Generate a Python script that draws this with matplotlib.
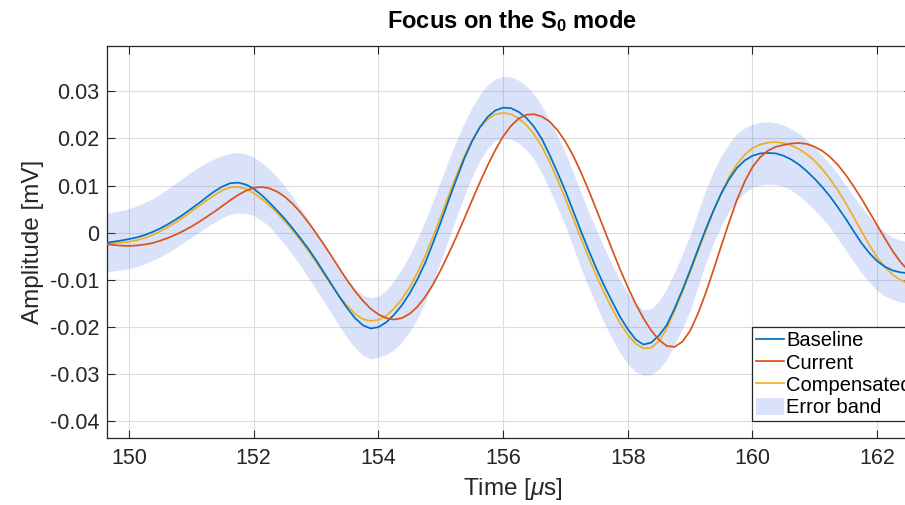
import matplotlib
matplotlib.use("Agg")
import matplotlib.pyplot as plt
import numpy as np

plt.rcParams["font.family"] = ["Liberation Sans", "DejaVu Sans"]
plt.rcParams["mathtext.fontset"] = "custom"
plt.rcParams["mathtext.rm"] = "Liberation Sans"
plt.rcParams["mathtext.it"] = "Liberation Sans:italic"
plt.rcParams["mathtext.bf"] = "Liberation Sans:bold"
plt.rcParams["axes.unicode_minus"] = False

# time [us], one row per microsecond
time_us = [149.5, 149.625, 149.75, 149.875,
           150.0, 150.125, 150.25, 150.375, 150.5, 150.625, 150.75, 150.875,
           151.0, 151.125, 151.25, 151.375, 151.5, 151.625, 151.75, 151.875,
           152.0, 152.125, 152.25, 152.375, 152.5, 152.625, 152.75, 152.875,
           153.0, 153.125, 153.25, 153.375, 153.5, 153.625, 153.75, 153.875,
           154.0, 154.125, 154.25, 154.375, 154.5, 154.625, 154.75, 154.875,
           155.0, 155.125, 155.25, 155.375, 155.5, 155.625, 155.75, 155.875,
           156.0, 156.125, 156.25, 156.375, 156.5, 156.625, 156.75, 156.875,
           157.0, 157.125, 157.25, 157.375, 157.5, 157.625, 157.75, 157.875,
           158.0, 158.125, 158.25, 158.375, 158.5, 158.625, 158.75, 158.875,
           159.0, 159.125, 159.25, 159.375, 159.5, 159.625, 159.75, 159.875,
           160.0, 160.125, 160.25, 160.375, 160.5, 160.625, 160.75, 160.875,
           161.0, 161.125, 161.25, 161.375, 161.5, 161.625, 161.75, 161.875,
           162.0, 162.125, 162.25, 162.375, 162.5]

# amplitudes, in units of 1e-3 mV
baseline = [-2.4, -2.2, -1.9, -1.65,
            -1.35, -1.0, -0.5, 0.15, 0.9, 1.8, 2.8, 3.9,
            5.1, 6.3, 7.6, 8.8, 9.8, 10.5, 10.6, 10.2,
            9.3, 8.0, 6.4, 4.7, 2.9, 0.9, -1.2, -3.4,
            -5.8, -8.4, -11.0, -13.6, -16.0, -18.1, -19.6, -20.3,
            -20.0, -19.0, -17.4, -15.4, -12.9, -9.9, -6.4, -2.2,
            2.2, 6.8, 11.3, 15.6, 19.3, 22.3, 24.5, 25.9,
            26.5, 26.4, 25.6, 24.3, 22.4, 19.8, 16.4, 12.7,
            8.8, 4.6, 0.3, -3.8, -7.7, -11.3, -14.6, -17.8,
            -20.4, -22.6, -23.7, -23.3, -21.8, -19.6, -16.1, -12.2,
            -8.0, -3.6, 0.7, 4.7, 8.3, 11.3, 13.7, 15.3,
            16.3, 16.8, 16.9, 16.8, 16.3, 15.5, 14.4, 13.0,
            11.4, 9.6, 7.6, 5.3, 2.9, 0.3, -2.2, -4.3,
            -6.0, -7.2, -8.0, -8.4, -8.6]

current = [-2.2, -2.4, -2.6, -2.75,
           -2.8, -2.7, -2.5, -2.2, -1.7, -1.1, -0.4, 0.4,
           1.3, 2.3, 3.4, 4.5, 5.7, 6.9, 8.0, 8.9,
           9.5, 9.7, 9.4, 8.7, 7.6, 6.1, 4.3, 2.2,
           -0.1, -2.5, -5.0, -7.6, -10.1, -12.4, -14.4, -16.1,
           -17.3, -18.1, -18.4, -18.1, -17.2, -15.7, -13.6, -11.0,
           -7.9, -4.5, -0.9, 2.9, 6.8, 10.6, 14.2, 17.5,
           20.4, 22.6, 24.2, 25.0, 25.1, 24.6, 23.5, 21.7,
           19.3, 16.3, 12.8, 8.9, 4.8, 0.6, -3.6, -7.7,
           -11.5, -15.0, -18.1, -20.7, -22.7, -24.0, -24.2, -23.1,
           -20.8, -17.2, -12.8, -7.9, -2.8, 2.2, 6.9, 10.8,
           13.9, 16.0, 17.4, 18.2, 18.6, 18.9, 19.0, 18.8,
           18.2, 17.3, 16.0, 14.3, 12.2, 9.8, 7.2, 4.4,
           1.6, -1.2, -3.9, -6.2, -8.0]

compensated = [-2.6, -2.4, -2.2, -2.1,
               -1.9, -1.6, -1.1, -0.5, 0.3, 1.2, 2.2, 3.3,
               4.5, 5.7, 6.9, 8.0, 9.0, 9.6, 9.7, 9.3,
               8.4, 7.2, 5.8, 4.2, 2.4, 0.5, -1.6, -3.8,
               -6.2, -8.7, -11.2, -13.5, -15.5, -17.2, -18.3, -18.7,
               -18.5, -17.6, -16.1, -14.1, -11.6, -8.5, -4.9, -0.9,
               3.4, 7.8, 12.1, 16.1, 19.5, 22.2, 24.0, 25.1,
               25.4, 25.1, 24.2, 22.8, 20.8, 18.2, 14.9, 11.2,
               7.2, 3.0, -1.2, -5.3, -9.2, -12.8, -16.1, -19.1,
               -21.6, -23.5, -24.5, -24.4, -23.0, -20.3, -16.6, -12.6,
               -8.4, -4.0, 0.3, 4.5, 8.4, 11.8, 14.5, 16.5,
               17.9, 18.7, 19.1, 19.2, 19.0, 18.5, 17.7, 16.6,
               15.2, 13.4, 11.3, 8.9, 6.2, 3.3, 0.3, -2.6,
               -5.2, -7.3, -8.9, -10.0, -10.8]

band_upper = [3.8, 4.1, 4.4, 4.7,
              5.1, 5.7, 6.4, 7.2, 8.2, 9.3, 10.5, 11.7,
              12.9, 14.0, 14.9, 15.7, 16.4, 16.8, 17.0, 16.7,
              16.0, 14.9, 13.5, 11.8, 9.8, 7.6, 5.2, 2.7,
              0.2, -2.4, -5.0, -7.5, -9.8, -11.8, -13.2, -13.8,
              -13.4, -12.2, -10.2, -7.7, -4.8, -1.3, 2.5, 6.7,
              11.0, 15.4, 19.5, 23.2, 26.5, 29.2, 31.3, 32.6,
              33.1, 33.0, 32.3, 31.1, 29.3, 26.8, 23.8, 20.5,
              17.0, 12.8, 8.5, 4.4, 0.5, -3.3, -6.8, -10.0,
              -12.8, -15.0, -16.3, -16.1, -14.5, -11.8, -8.5, -4.6,
              -0.5, 4.3, 9.0, 13.0, 16.3, 18.9, 21.0, 22.2,
              23.0, 23.4, 23.5, 23.3, 22.8, 22.0, 21.0, 19.6,
              18.0, 16.3, 14.5, 12.3, 10.0, 7.7, 5.5, 3.4,
              1.5, 0.1, -1.0, -1.6, -2.0]

band_lower = [-8.6, -8.35, -8.1, -7.9,
              -7.6, -7.2, -6.6, -5.9, -5.1, -4.2, -3.2, -2.1,
              -1.0, 0.1, 1.2, 2.3, 3.2, 3.9, 4.2, 4.1,
              3.6, 2.6, 1.3, -0.5, -2.5, -4.7, -7.0, -9.5,
              -12.0, -14.6, -17.2, -19.8, -22.3, -24.4, -26.0, -26.7,
              -26.4, -25.8, -24.8, -23.2, -21.0, -18.2, -14.8, -10.6,
              -6.0, -1.4, 3.2, 7.7, 11.8, 15.2, 17.9, 19.5,
              20.0, 19.8, 19.0, 17.5, 15.5, 12.5, 9.0, 5.3,
              1.5, -3.0, -7.5, -11.6, -15.5, -19.2, -22.5, -25.4,
              -27.8, -29.4, -30.2, -30.1, -29.0, -26.8, -23.8, -20.4,
              -16.5, -11.5, -6.5, -2.2, 1.5, 4.5, 6.8, 8.5,
              9.6, 10.1, 10.3, 10.2, 9.8, 9.0, 7.8, 6.4,
              4.8, 3.0, 1.0, -1.4, -3.8, -6.2, -8.5, -10.5,
              -12.2, -13.4, -14.2, -14.7, -14.9]

x_ticks = [150, 152, 154, 156, 158, 160, 162]
y_ticks = [-0.04, -0.03, -0.02, -0.01, 0.0, 0.01, 0.02, 0.03]
y_tick_labels = ["-0.04", "-0.03", "-0.02", "-0.01", "0", "0.01", "0.02", "0.03"]

t = np.array(time_us)
scale = 1e-3  # -> mV

fig = plt.figure(figsize=(9.05, 5.05), dpi=100)
ax = fig.add_axes([107 / 905, 67 / 505, 805 / 905, 392 / 505])

band = ax.fill_between(t, np.array(band_lower) * scale, np.array(band_upper) * scale,
                       color="#4a72e8", alpha=0.2, lw=0, zorder=1, label="Error band")
l1, = ax.plot(t, np.array(baseline) * scale, color="#0072BD", lw=1.25, zorder=3, label="Baseline")
l2, = ax.plot(t, np.array(current) * scale, color="#D95319", lw=1.25, zorder=3, label="Current")
l3, = ax.plot(t, np.array(compensated) * scale, color="#EDB120", lw=1.25, zorder=2.5,
              label="Compensated")

ax.set_xlim(149.646, 162.56)
ax.set_ylim(-0.0435, 0.03956)
ax.set_xticks(x_ticks)
ax.set_yticks(y_ticks)
ax.set_yticklabels(y_tick_labels)
ax.grid(True, color="#dcdcdc", lw=0.8)
ax.set_axisbelow(True)
ax.tick_params(direction="in", length=6, width=0.8, top=True, right=True,
               labelsize=15.5, colors="#262626")
ax.tick_params(axis="x", pad=7)
ax.tick_params(axis="y", pad=5.5)
for s in ax.spines.values():
    s.set_color("#262626")
    s.set_linewidth(0.9)

ax.set_title(r"Focus on the S$_\mathbf{0}$ mode", fontsize=17, fontweight="bold",
             x=0.503, y=1.046, pad=0)
ax.set_xlabel(r"Time [$\mu$s]", fontsize=17.5, color="#262626")
ax.set_ylabel("Amplitude [mV]", fontsize=17.5, color="#262626")
ax.xaxis.set_label_coords(0.504, -0.097)
ax.yaxis.set_label_coords(-0.078, 0.5)

leg = ax.legend(handles=[l1, l2, l3, band], loc="upper left",
                bbox_to_anchor=(752 / 905, 1 - 327 / 505), bbox_transform=fig.transFigure,
                borderaxespad=0, fontsize=14.5, handlelength=1.4, handletextpad=0.1,
                labelspacing=0.15, borderpad=0.2, handleheight=0.9,
                fancybox=False, framealpha=1, edgecolor="#262626")
leg.get_frame().set_linewidth(0.9)

fig.savefig("out.png", dpi=100)
